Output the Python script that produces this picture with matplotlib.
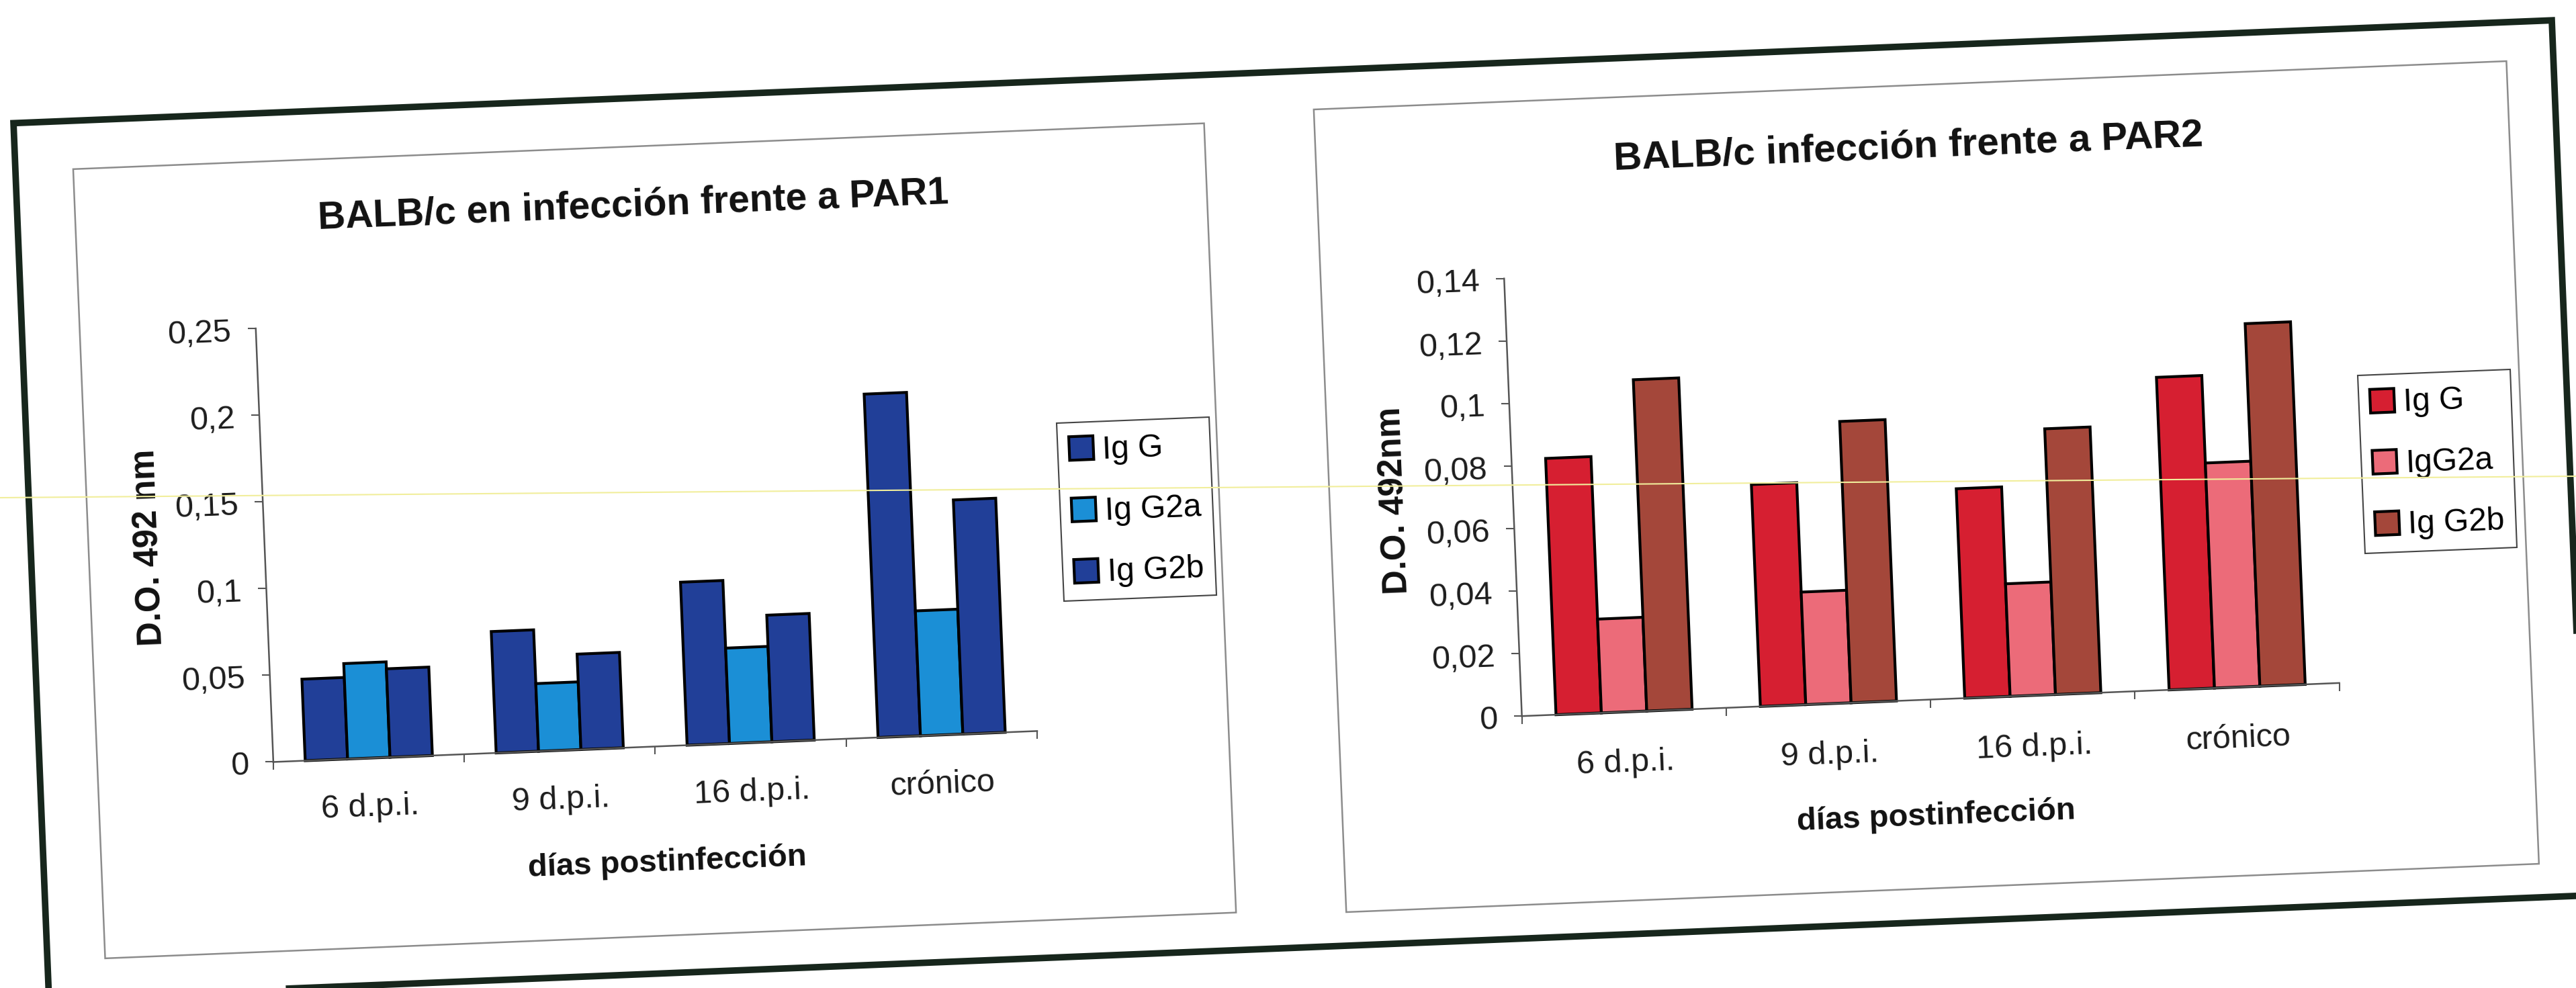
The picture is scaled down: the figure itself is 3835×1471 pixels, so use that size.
import matplotlib
matplotlib.use("Agg")
import matplotlib.pyplot as plt
import numpy as np
from matplotlib.patches import Patch, Rectangle
from matplotlib.lines import Line2D
from matplotlib.text import Text
from matplotlib.transforms import Affine2D

plt.rcParams["font.family"] = ["Liberation Sans", "DejaVu Sans"]

W, H, DPI = 3835, 1471, 100
TILT = 2.32  # the printed page sits a little skewed

# ---- data ----
categories = ["6 d.p.i.", "9 d.p.i.", "16 d.p.i.", "crónico"]

par1_names = ["Ig G", "Ig G2a", "Ig G2b"]
par1_igg = [0.047, 0.070, 0.094, 0.198]
par1_g2a = [0.055, 0.039, 0.055, 0.072]
par1_g2b = [0.051, 0.055, 0.073, 0.135]

par2_names = ["Ig G", "IgG2a", "Ig G2b"]
par2_igg = [0.082, 0.071, 0.067, 0.100]
par2_g2a = [0.030, 0.036, 0.036, 0.072]
par2_g2b = [0.106, 0.090, 0.085, 0.116]

par1_colors = ["#213f98", "#1b8fd6", "#213f98"]
par2_colors = ["#d61f31", "#ec6b79", "#a4473a"]


def fx(px):
    return px / W


def fy(py):
    return 1 - py / H


fig = plt.figure(figsize=(W / DPI, H / DPI), dpi=DPI, facecolor="white")

# outer page box and the two chart boxes
fig.add_artist(Rectangle((fx(44), fy(1411)), (3826 - 44) / W, (1411 - 107) / H,
                         transform=fig.transFigure, fill=False,
                         edgecolor="#17261c", lw=7))
fig.add_artist(Rectangle((fx(130), fy(1355)), (1815 - 130) / W, (1355 - 179) / H,
                         transform=fig.transFigure, fill=False,
                         edgecolor="#8c8c8c", lw=1.8))
fig.add_artist(Rectangle((fx(1979), fy(1361)), (3756 - 1979) / W, (1361 - 165) / H,
                         transform=fig.transFigure, fill=False,
                         edgecolor="#8c8c8c", lw=1.8))


def draw_chart(box, series, names, colors, title, title_size, title_y,
               ylabel, ylabel_xy, xlabel_xy, ymax, ystep, xpad, legend_at):
    x0, y0, x1, y1 = box
    ax = fig.add_axes([fx(x0), fy(y1), (x1 - x0) / W, (y1 - y0) / H])
    ax.patch.set_facecolor("none")

    x = np.arange(len(categories))
    width = 0.222
    for i, (vals, name, col) in enumerate(zip(series, names, colors)):
        ax.bar(x + (i - 1) * width, vals, width, color=col,
               edgecolor="black", linewidth=3, label=name)

    ax.set_xlim(-0.5, len(categories) - 0.5)
    ax.set_ylim(0, ymax)
    yt = np.arange(0, ymax + ystep / 2, ystep)
    ax.set_yticks(yt, [f"{v:g}".replace(".", ",") for v in yt])
    ax.set_xticks(np.arange(-0.5, len(categories), 1))
    ax.set_xticklabels([])
    ax.set_xticks(x, categories, minor=True)

    ax.tick_params(axis="x", which="minor", length=0, pad=xpad,
                   labelsize=35, labelcolor="#1c1c1c")
    ax.tick_params(axis="x", which="major", length=8.5, width=1.5,
                   direction="out", color="#555555")
    ax.tick_params(axis="y", length=8.5, width=1.5, direction="out",
                   pad=17, labelsize=35, color="#555555", labelcolor="#1c1c1c")

    for side in ["top", "right"]:
        ax.spines[side].set_visible(False)
    for side in ["left", "bottom"]:
        ax.spines[side].set_color("#555555")
        ax.spines[side].set_linewidth(1.8)

    ax.text(0.5, title_y, title, transform=ax.transAxes, ha="center",
            va="center", fontsize=title_size, fontweight="bold", color="#111111")
    ax.set_xlabel("días postinfección", fontsize=34, fontweight="bold",
                  va="center", color="#111111")
    ax.xaxis.set_label_coords(*xlabel_xy)
    ax.set_ylabel(ylabel, fontsize=36.5, fontweight="bold", va="center",
                  color="#111111")
    ax.yaxis.set_label_coords(*ylabel_xy)

    leg = ax.legend(loc="upper left", bbox_to_anchor=(fx(legend_at[0]), fy(legend_at[1])),
                    bbox_transform=fig.transFigure, borderaxespad=0,
                    fontsize=34.5, fancybox=False, edgecolor="#444444",
                    framealpha=1, borderpad=0.35, labelspacing=0.85,
                    handlelength=0.75, handleheight=0.75, handletextpad=0.25)
    leg.get_frame().set_linewidth(1.5)
    return ax


draw_chart((392, 427, 1530, 1073), [par1_igg, par1_g2a, par1_g2b],
           par1_names, par1_colors, "BALB/c en infección frente a PAR1", 41, 1.247,
           "D.O. 492 nm", (-0.1505, 0.505), (0.510, -0.269), 0.25, 0.05, 35,
           (1578, 616))

draw_chart((2252, 428, 3470, 1080), [par2_igg, par2_g2a, par2_g2b],
           par2_names, par2_colors, "BALB/c infección frente a PAR2", 42, 1.260,
           "D.O. 492nm", (-0.1447, 0.503), (0.501, -0.267), 0.14, 0.02, 37,
           (3516, 624))

# lay out once, then tilt everything drawn on the page around its centre
fig.canvas.draw()
rot = Affine2D().rotate_deg_around(W / 2, H / 2, TILT)
seen = set()
for art in fig.findobj(lambda a: isinstance(a, (Patch, Line2D, Text))):
    if art is fig.patch or id(art) in seen:
        continue
    seen.add(id(art))
    if isinstance(art, Patch):
        base = art.get_data_transform()
    else:
        base = art.get_transform()
    art.set_transform(base + rot)
    art.set_clip_on(False)
    if isinstance(art, Text):
        art.set_rotation(art.get_rotation() + TILT)

# faint streak left by the scanner lamp
fig.add_artist(Line2D([0, 1], [fy(741), fy(709)], transform=fig.transFigure,
                      color="#f1ee9c", lw=1.5))

fig.savefig("out.png", dpi=DPI)
